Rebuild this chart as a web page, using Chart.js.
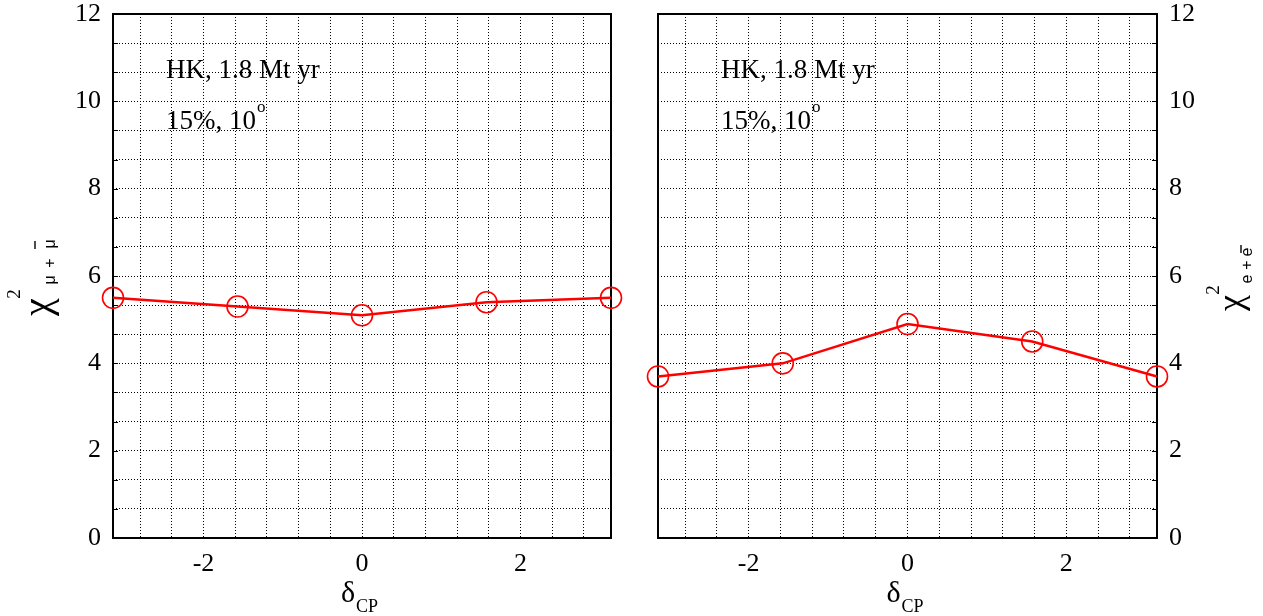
<!DOCTYPE html>
<html><head><meta charset="utf-8">
<script src="https://cdn.jsdelivr.net/npm/chart.js@4/dist/chart.umd.min.js"></script>
<style>
html,body{margin:0;padding:0;background:#fff;}
#wrap{position:relative;width:1263px;height:616px;overflow:hidden;}
.panel{position:absolute;top:0;height:616px;}
#pl{left:0;width:631px;}
#pr{left:631px;width:632px;}
</style></head><body>
<div id="wrap"><div class="panel" id="pl"><canvas id="cl"></canvas></div><div class="panel" id="pr"><canvas id="cr"></canvas></div></div>
<script>
// ---- data ----
const deltaCP = [-3.1416, -1.5708, 0, 1.5708, 3.1416];
const chiMu = [5.5, 5.3, 5.1, 5.4, 5.5];
const chiE = [3.7, 4.0, 4.9, 4.5, 3.7];
const xLabelTicks = [-2, 0, 2];
const yLabelTicks = [0, 2, 4, 6, 8, 10, 12];
const xGridStep = 0.4;
const yGridStep = 2 / 3;
const annotLine1 = 'HK, 1.8 Mt yr';
const annotLine2 = '15%, 10';
const annotSup = 'o';

const SERIF = '"Liberation Serif", "DejaVu Serif", serif';
const SANS = '"Liberation Sans", "DejaVu Sans", sans-serif';

function gridTicks(min, max, step) {
  const a = [];
  const n0 = Math.ceil(min / step - 1e-9), n1 = Math.floor(max / step + 1e-9);
  for (let k = n0; k <= n1; k++) a.push({ value: +(k * step).toFixed(6) });
  return a;
}
function labelFor(v, list) {
  const t = list.find(t => Math.abs(t - v) < 1e-6);
  return t === undefined ? '' : String(t);
}

function txt(ctx, s, x, y, font, align, base, rot) {
  ctx.save();
  ctx.font = font; ctx.fillStyle = '#000';
  ctx.textAlign = align || 'left'; ctx.textBaseline = base || 'alphabetic';
  ctx.translate(x, y);
  if (rot) ctx.rotate(rot);
  ctx.fillText(s, 0, 0);
  ctx.restore();
}

function makeDeco(cfg) {
  return {
    id: 'deco_' + cfg.side,
    beforeDatasetsDraw(chart) {
      const ctx = chart.ctx, a = chart.chartArea;
      const ys = chart.scales.y;
      ctx.save();
      ctx.strokeStyle = '#000';
      ctx.lineWidth = 1;
      ctx.beginPath();
      ys.ticks.forEach(t => {
        const py = Math.round(ys.getPixelForValue(t.value)) + 0.5;
        if (cfg.side === 'left') { ctx.moveTo(a.left, py); ctx.lineTo(a.left + 5, py); }
        else { ctx.moveTo(a.right, py); ctx.lineTo(a.right - 5, py); }
      });
      ctx.stroke();
      ctx.lineWidth = 2;
      ctx.strokeRect(a.left, a.top, a.right - a.left, a.bottom - a.top);
      ctx.restore();
    },
    afterDraw(chart) {
      const ctx = chart.ctx, a = chart.chartArea, o = cfg.offset;
      // annotations
      const ax = cfg.annotX - o;
      txt(ctx, annotLine1, ax, 78, '27px ' + SERIF);
      ctx.save(); ctx.font = '27px ' + SERIF;
      const w2 = ctx.measureText(annotLine2).width; ctx.restore();
      txt(ctx, annotLine2, ax, 129, '27px ' + SERIF);
      txt(ctx, annotSup, ax + w2 + 1, 112, '17px ' + SERIF);
      // x title
      const cx = (a.left + a.right) / 2;
      txt(ctx, 'δ', cx - 21, 602, '30px ' + SERIF);
      txt(ctx, 'CP', cx - 6, 612, '18px ' + SERIF);
      // y title (rotated)
      const R = -Math.PI / 2;
      const t = cfg.title;
      txt(ctx, 'χ', t.chi[0] - o, t.chi[1], t.chiFont + 'px ' + SERIF, 'center', 'middle', R);
      txt(ctx, '2', t.sup[0] - o, t.sup[1], '19px ' + SERIF, 'center', 'middle', R);
      t.sub.forEach(s => txt(ctx, s[0], s[1] - o, s[2], '16px ' + SANS, 'center', 'middle', R));
      ctx.save(); ctx.strokeStyle = '#000'; ctx.lineWidth = 1.4;
      ctx.beginPath(); ctx.moveTo(t.bar[0] - o, t.bar[1]); ctx.lineTo(t.bar[0] - o, t.bar[2]); ctx.stroke();
      ctx.restore();
    }
  };
}

function makeChart(id, values, side, deco) {
  const tickFont = { family: SERIF, size: 26, lineHeight: 1 };
  return new Chart(document.getElementById(id), {
    type: 'line',
    data: {
      datasets: [{
        data: deltaCP.map((x, i) => ({ x: x, y: values[i] })),
        borderColor: '#ff0000', borderWidth: 2.5,
        pointRadius: 10.5, pointHoverRadius: 10.5, pointBorderWidth: 1.6,
        pointBackgroundColor: 'rgba(0,0,0,0)', pointBorderColor: '#ff0000',
        fill: false, tension: 0, clip: false
      }]
    },
    options: {
      responsive: true, maintainAspectRatio: false, animation: false, events: [],
      layout: { padding: side === 'left' ? { left: 0, right: 20, top: 14, bottom: 0 } : { left: 27, right: 0, top: 14, bottom: 0 } },
      plugins: { legend: { display: false }, tooltip: { enabled: false } },
      scales: {
        x: {
          type: 'linear', min: -Math.PI, max: Math.PI,
          afterBuildTicks: s => { s.ticks = gridTicks(-Math.PI, Math.PI, xGridStep); },
          afterFit: s => { s.height = 78; s.paddingLeft = 0; s.paddingRight = 0; },
          ticks: { callback: v => labelFor(v, xLabelTicks), font: tickFont, color: '#000', padding: 13, maxRotation: 0, minRotation: 0, autoSkip: false },
          grid: { color: '#000', lineWidth: 1, drawTicks: false, borderDash: [1, 2] },
          border: { display: false, dash: [1, 2] }
        },
        y: {
          type: 'linear', position: side, min: 0, max: 12,
          afterBuildTicks: s => { s.ticks = gridTicks(0, 12, yGridStep); },
          afterFit: s => { s.width = side === 'left' ? 113 : 106; s.paddingTop = 0; s.paddingBottom = 0; },
          ticks: { callback: v => labelFor(v, yLabelTicks), font: tickFont, color: '#000', padding: 12, autoSkip: false },
          grid: { color: '#000', lineWidth: 1, drawTicks: false, borderDash: [1, 2] },
          border: { display: false, dash: [1, 2] }
        }
      }
    },
    plugins: [deco]
  });
}

makeChart('cl', chiMu, 'left', makeDeco({
  side: 'left', offset: 0, annotX: 166,
  title: { chi: [39, 307], chiFont: 40, sup: [15, 294], sub: [['μ', 51, 280], ['+', 51, 263], ['μ', 51, 244]], bar: [35, 241, 249] }
}));
makeChart('cr', chiE, 'right', makeDeco({
  side: 'right', offset: 631, annotX: 721,
  title: { chi: [1233, 303], chiFont: 36, sup: [1214, 290], sub: [['e', 1248, 279], ['+', 1248, 265], ['e', 1248, 252]], bar: [1241, 245, 253] }
}));
</script>
</body></html>
